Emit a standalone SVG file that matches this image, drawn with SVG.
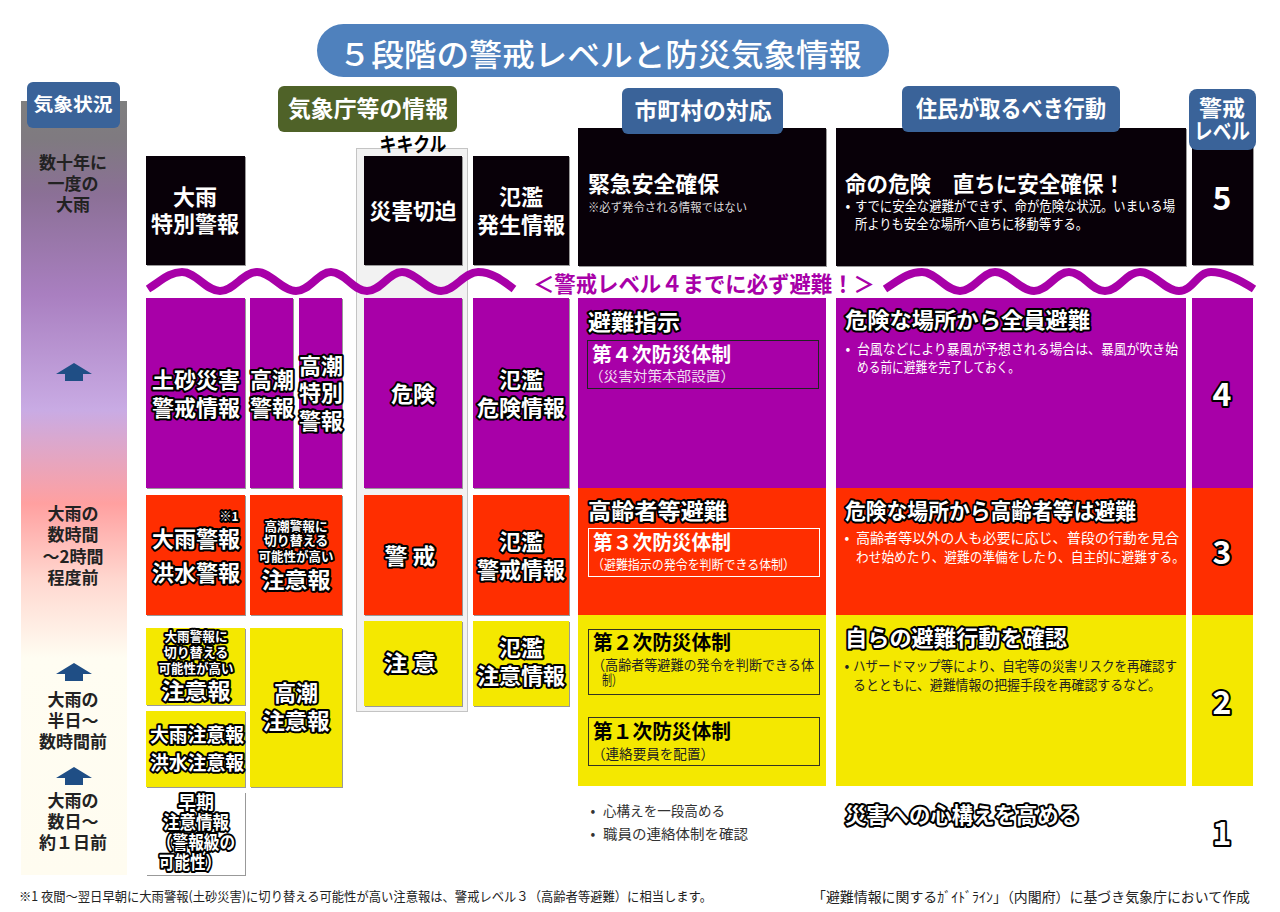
<svg xmlns="http://www.w3.org/2000/svg" width="1280" height="912" viewBox="0 0 1280 912">
<style>
text{font-family:"Noto Sans CJK JP","Noto Sans",sans-serif;text-anchor:middle;dominant-baseline:central;transform:translateY(-2px)}
.l{text-anchor:start}
.b{font-weight:700}
.w{fill:#fff}
.k{fill:#000}
.d{fill:#222;font-weight:700}
.h{fill:#fff;font-weight:700;stroke:#000;stroke-width:4;stroke-linejoin:round;paint-order:stroke}
.bk{fill:#080008}.pu{fill:#a800a8}.re{fill:#ff2e00}.ye{fill:#f4e800}
.sh{filter:drop-shadow(1px 1px .5px #999)}
.tab{fill:#3a6399}
.wave{fill:none;stroke:#a800a8;stroke-width:8}
.arrow{fill:#1f4e85}
</style>
<defs>
<linearGradient id="sky" x1="0" y1="0" x2="0" y2="1">
<stop offset="0" stop-color="#7f7f7f"/>
<stop offset="0.05" stop-color="#7f7a80"/>
<stop offset="0.12" stop-color="#8b7096"/>
<stop offset="0.25" stop-color="#a97fc0"/>
<stop offset="0.4" stop-color="#c9abe4"/>
<stop offset="0.52" stop-color="#ffa0a0"/>
<stop offset="0.62" stop-color="#ffd8d0"/>
<stop offset="0.72" stop-color="#fffdf2"/>
<stop offset="1" stop-color="#fffcf0"/>
</linearGradient>
</defs>
<g id="connectors"></g>
<g id="title"><rect x="317" y="24" width="572" height="53" rx="26.500" fill="#4f81bd"/><text class="w" x="600" y="54" font-size="31" font-weight="500" textLength="523" lengthAdjust="spacingAndGlyphs">５段階の警戒レベルと防災気象情報</text></g>

<g id="weather-column">
<rect x="21" y="101" width="106" height="774" fill="url(#sky)"/>
<rect class="tab" x="27" y="82" width="93" height="46" rx="6"/>
<text class="w b" x="73" y="105" font-size="18" textLength="79" lengthAdjust="spacingAndGlyphs">気象状況</text>
<g class="d" font-size="17"><text x="73" y="163">数十年に</text><text x="73" y="184">一度の</text><text x="73" y="205">大雨</text>
<text x="73" y="514">大雨の</text><text x="73" y="535">数時間</text><text x="73" y="557">～2時間</text><text x="73" y="578">程度前</text>
<text x="73" y="700">大雨の</text><text x="73" y="721">半日～</text><text x="73" y="742">数時間前</text>
<text x="73" y="801">大雨の</text><text x="73" y="822">数日～</text><text x="73" y="843">約１日前</text></g>
<path class="arrow" d="M74 363L92 374H83V381H65V374H56Z"/>
<path class="arrow" d="M74 663L92 674H83V681H65V674H56Z"/>
<path class="arrow" d="M74 767L92 778H83V785H65V778H56Z"/>
</g>

<g id="kikikuru"><rect x="356.500" y="148.500" width="111" height="563" fill="#f2f2f2" stroke="#c4c4c4"/><text class="k b" x="413" y="145" font-size="20" textLength="67" lengthAdjust="spacingAndGlyphs">キキクル</text></g>

<g id="tab-jma"><rect x="278" y="86" width="179" height="46" rx="6" fill="#4f6228"/><text class="w b" x="368" y="109" font-size="23" textLength="160" lengthAdjust="spacingAndGlyphs">気象庁等の情報</text></g>

<g id="level5">
<rect class="bk sh" x="146" y="156" width="99" height="109"/>
<text class="w b" x="195" y="197" font-size="22">大雨</text><text class="w b" x="195" y="224" font-size="22" textLength="88" lengthAdjust="spacingAndGlyphs">特別警報</text>
<rect class="bk sh" x="364" y="156" width="98" height="109"/>
<text class="w b" x="413" y="211" font-size="22" textLength="87" lengthAdjust="spacingAndGlyphs">災害切迫</text>
<rect class="bk sh" x="473" y="156" width="96" height="109"/>
<text class="w b" x="521" y="197" font-size="22">氾濫</text><text class="w b" x="521" y="225" font-size="22" textLength="88" lengthAdjust="spacingAndGlyphs">発生情報</text>
<rect class="bk sh" x="578" y="128" width="248" height="138"/>
<text class="w b l" x="588" y="184" font-size="22" textLength="131" lengthAdjust="spacingAndGlyphs">緊急安全確保</text>
<text class="w l" x="588" y="208" font-size="12" fill-opacity=".85" textLength="159" lengthAdjust="spacingAndGlyphs">※必ず発令される情報ではない</text>
<rect class="bk sh" x="836" y="128" width="350" height="138"/>
<text class="w b l" x="845" y="184" font-size="22" textLength="280" lengthAdjust="spacingAndGlyphs">命の危険　直ちに安全確保！</text>
<text class="w" x="848" y="207" font-size="14">•</text>
<text class="w l" x="855" y="207" font-size="14" textLength="320" lengthAdjust="spacingAndGlyphs">すでに安全な避難ができず、命が危険な状況。いまいる場</text>
<text class="w l" x="855" y="225" font-size="14" textLength="233" lengthAdjust="spacingAndGlyphs">所よりも安全な場所へ直ちに移動等する。</text>
<rect class="bk sh" x="1192" y="128" width="61" height="137"/>
<text class="w b" x="1222" y="198" font-size="32">5</text>
</g>

<g id="tab-city"><rect class="tab" x="622" y="88" width="161" height="46" rx="6"/><text class="w b" x="703" y="111" font-size="23" textLength="137" lengthAdjust="spacingAndGlyphs">市町村の対応</text></g>
<g id="tab-residents"><rect class="tab" x="902" y="86" width="218" height="46" rx="6"/><text class="w b" x="1011" y="109" font-size="23" textLength="190" lengthAdjust="spacingAndGlyphs">住民が取るべき行動</text></g>
<g id="tab-level"><rect class="tab" x="1189" y="89" width="67" height="61" rx="8"/><text class="w b" x="1222" y="108" font-size="22" textLength="46" lengthAdjust="spacingAndGlyphs">警戒</text><text class="w b" x="1222" y="131" font-size="22" textLength="56" lengthAdjust="spacingAndGlyphs">レベル</text></g>

<g id="wave-band">
<path class="wave" d="M148 289C162 280 170 272 182 272C196 272 206 291 220 291C234 291 243 272 257 272C271 272 282 291 296 291C310 291 318 272 331 272C345 272 353 291 367 291C381 291 389 272 402 272C416 272 427 291 441 291C455 291 464 272 478 272C492 272 502 280 514 289"/>
<path class="wave" d="M885 289C899 280 908 272 922 272C936 272 946 291 960 291C974 291 982 272 995 272C1009 272 1020 291 1034 291C1048 291 1056 272 1069 272C1083 272 1091 291 1105 291C1119 291 1126 272 1140 272C1154 272 1165 291 1179 291C1193 291 1197 272 1211 272C1225 272 1240 280 1254 289"/>
<text class="b" x="704" y="284" font-size="22" fill="#a800a8" textLength="342" lengthAdjust="spacingAndGlyphs">＜警戒レベル４までに必ず避難！＞</text>
</g>

<g id="level4">
<rect class="pu sh" x="146" y="298" width="99" height="190"/>
<text class="h" x="196" y="380" font-size="22" textLength="88" lengthAdjust="spacingAndGlyphs">土砂災害</text><text class="h" x="196" y="408" font-size="22" textLength="88" lengthAdjust="spacingAndGlyphs">警戒情報</text>
<rect class="pu sh" x="250" y="298" width="43" height="190"/>
<text class="h" x="272" y="380" font-size="22">高潮</text><text class="h" x="272" y="408" font-size="22">警報</text>
<rect class="pu sh" x="299" y="298" width="43" height="190"/>
<text class="h" x="321" y="366" font-size="22">高潮</text><text class="h" x="321" y="393" font-size="22">特別</text><text class="h" x="321" y="421" font-size="22">警報</text>
<rect class="pu sh" x="364" y="298" width="98" height="190"/>
<text class="h" x="413" y="394" font-size="22">危険</text>
<rect class="pu sh" x="473" y="298" width="96" height="190"/>
<text class="h" x="521" y="380" font-size="22">氾濫</text><text class="h" x="521" y="408" font-size="22" textLength="88" lengthAdjust="spacingAndGlyphs">危険情報</text>
<rect class="pu" x="578" y="298" width="248" height="190"/>
<text class="h l" x="588" y="322" font-size="22" textLength="92" lengthAdjust="spacingAndGlyphs">避難指示</text>
<rect x="587.500" y="340.500" width="231" height="48" fill="none" stroke="#222"/>
<text class="w b l" x="592" y="355" font-size="20" textLength="139" lengthAdjust="spacingAndGlyphs">第４次防災体制</text>
<text class="l" x="589" y="377" font-size="14" fill="#f0dcf0" textLength="146" lengthAdjust="spacingAndGlyphs">（災害対策本部設置）</text>
<rect class="pu" x="836" y="298" width="350" height="190"/>
<text class="h l" x="845" y="320" font-size="22" textLength="245" lengthAdjust="spacingAndGlyphs">危険な場所から全員避難</text>
<text class="w" x="848" y="350" font-size="14">•</text>
<text class="w l" x="857" y="350" font-size="14" textLength="321" lengthAdjust="spacingAndGlyphs">台風などにより暴風が予想される場合は、暴風が吹き始</text>
<text class="w l" x="857" y="368" font-size="14" textLength="163" lengthAdjust="spacingAndGlyphs">める前に避難を完了しておく。</text>
<rect class="pu" x="1192" y="298" width="61" height="190"/>
<text class="h" x="1222" y="394" font-size="32">4</text>
</g>

<g id="level3">
<rect class="re sh" x="146" y="495" width="99" height="120"/>
<text class="h" x="229" y="517" font-size="12" stroke-width="3">※1</text>
<text class="h" x="196" y="539" font-size="22" textLength="88" lengthAdjust="spacingAndGlyphs">大雨警報</text><text class="h" x="196" y="573" font-size="22" textLength="88" lengthAdjust="spacingAndGlyphs">洪水警報</text>
<rect class="re sh" x="250" y="495" width="92" height="120"/>
<text class="h" x="296" y="527" font-size="13" textLength="63" lengthAdjust="spacingAndGlyphs">高潮警報に</text><text class="h" x="296" y="541" font-size="13">切り替える</text><text class="h" x="296" y="557" font-size="13" textLength="75" lengthAdjust="spacingAndGlyphs">可能性が高い</text><text class="h" x="296" y="580" font-size="22" textLength="69" lengthAdjust="spacingAndGlyphs">注意報</text>
<rect class="re sh" x="364" y="495" width="98" height="120"/>
<text class="h" x="410" y="556" font-size="22" textLength="51" lengthAdjust="spacingAndGlyphs">警 戒</text>
<rect class="re sh" x="473" y="495" width="96" height="120"/>
<text class="h" x="521" y="542" font-size="22">氾濫</text><text class="h" x="521" y="570" font-size="22" textLength="88" lengthAdjust="spacingAndGlyphs">警戒情報</text>
<rect class="re" x="578" y="488" width="248" height="127"/>
<text class="h l" x="588" y="511" font-size="22" textLength="139" lengthAdjust="spacingAndGlyphs">高齢者等避難</text>
<rect x="588.500" y="528.500" width="231" height="48" fill="none" stroke="#fff"/>
<text class="w b l" x="593" y="543" font-size="20" textLength="138" lengthAdjust="spacingAndGlyphs">第３次防災体制</text>
<text class="w l" x="592" y="565" font-size="13" textLength="203" lengthAdjust="spacingAndGlyphs">（避難指示の発令を判断できる体制）</text>
<rect class="re" x="836" y="488" width="350" height="127"/>
<text class="h l" x="845" y="511" font-size="22" textLength="291" lengthAdjust="spacingAndGlyphs">危険な場所から高齢者等は避難</text>
<text class="w" x="847" y="539" font-size="14">•</text>
<text class="w l" x="856" y="539" font-size="14" textLength="323" lengthAdjust="spacingAndGlyphs">高齢者等以外の人も必要に応じ、普段の行動を見合</text>
<text class="w l" x="856" y="558" font-size="14" textLength="329" lengthAdjust="spacingAndGlyphs">わせ始めたり、避難の準備をしたり、自主的に避難する。</text>
<rect class="re" x="1192" y="488" width="61" height="127"/>
<text class="h" x="1222" y="552" font-size="32">3</text>
</g>

<g id="level2">
<rect class="ye sh" x="146" y="628" width="99" height="77"/>
<text class="h" x="196" y="637" font-size="13" textLength="63" lengthAdjust="spacingAndGlyphs">大雨警報に</text><text class="h" x="196" y="653" font-size="13">切り替える</text><text class="h" x="196" y="669" font-size="13" textLength="75" lengthAdjust="spacingAndGlyphs">可能性が高い</text><text class="h" x="196" y="691" font-size="22" textLength="69" lengthAdjust="spacingAndGlyphs">注意報</text>
<rect class="ye sh" x="146" y="711" width="99" height="76"/>
<text class="h" x="197" y="735" font-size="19" textLength="94" lengthAdjust="spacingAndGlyphs">大雨注意報</text><text class="h" x="197" y="763" font-size="19" textLength="94" lengthAdjust="spacingAndGlyphs">洪水注意報</text>
<rect class="ye sh" x="250" y="628" width="92" height="159"/>
<text class="h" x="296" y="693" font-size="22">高潮</text><text class="h" x="296" y="721" font-size="22" textLength="67" lengthAdjust="spacingAndGlyphs">注意報</text>
<rect class="ye sh" x="364" y="621" width="98" height="85"/>
<text class="h" x="410" y="663" font-size="22" textLength="52" lengthAdjust="spacingAndGlyphs">注 意</text>
<rect class="ye sh" x="473" y="621" width="96" height="85"/>
<text class="h" x="521" y="648" font-size="22">氾濫</text><text class="h" x="521" y="676" font-size="22" textLength="88" lengthAdjust="spacingAndGlyphs">注意情報</text>
<rect class="ye" x="578" y="615" width="248" height="171"/>
<rect x="588.500" y="629.500" width="231" height="65" fill="none" stroke="#332"/>
<text class="k b l" x="593" y="643" font-size="20" textLength="138" lengthAdjust="spacingAndGlyphs">第２次防災体制</text>
<text class="l" x="592" y="666" font-size="14" fill="#222" textLength="222" lengthAdjust="spacingAndGlyphs">（高齢者等避難の発令を判断できる体</text>
<text class="l" x="602" y="681" font-size="14" fill="#222" textLength="20" lengthAdjust="spacingAndGlyphs">制）</text>
<rect x="588.500" y="717.500" width="231" height="48" fill="none" stroke="#332"/>
<text class="k b l" x="593" y="732" font-size="20" textLength="138" lengthAdjust="spacingAndGlyphs">第１次防災体制</text>
<text class="l" x="592" y="755" font-size="14" fill="#222" textLength="122" lengthAdjust="spacingAndGlyphs">（連絡要員を配置）</text>
<rect class="ye" x="836" y="615" width="350" height="171"/>
<text class="h l" x="845" y="638" font-size="22" textLength="222" lengthAdjust="spacingAndGlyphs">自らの避難行動を確認</text>
<text x="847" y="667" font-size="14" fill="#222">•</text>
<text class="l" x="853" y="667" font-size="14" fill="#222" textLength="324" lengthAdjust="spacingAndGlyphs">ハザードマップ等により、自宅等の災害リスクを再確認す</text>
<text class="l" x="853" y="686" font-size="14" fill="#222" textLength="308" lengthAdjust="spacingAndGlyphs">るとともに、避難情報の把握手段を再確認するなど。</text>
<rect class="ye" x="1192" y="615" width="61" height="171"/>
<text class="h" x="1222" y="702" font-size="32">2</text>
</g>

<g id="level1">
<rect class="sh" x="146" y="792" width="99" height="83" fill="#fff"/>
<text class="h" x="196" y="803" font-size="18">早期</text><text class="h" x="196" y="823" font-size="18" textLength="66" lengthAdjust="spacingAndGlyphs">注意情報</text><text class="h" x="196" y="843" font-size="18" textLength="78" lengthAdjust="spacingAndGlyphs">（警報級の</text><text class="h" x="190" y="863" font-size="18" textLength="62" lengthAdjust="spacingAndGlyphs">可能性）</text>
<text x="593" y="812" font-size="14" fill="#333">•</text>
<text class="l" x="603" y="812" font-size="14" fill="#333" textLength="122" lengthAdjust="spacingAndGlyphs">心構えを一段高める</text>
<text x="593" y="835" font-size="14" fill="#333">•</text>
<text class="l" x="603" y="835" font-size="14" fill="#333" textLength="145" lengthAdjust="spacingAndGlyphs">職員の連絡体制を確認</text>
<text class="h l" x="845" y="815" font-size="22" textLength="235" lengthAdjust="spacingAndGlyphs">災害への心構えを高める</text>
<text class="h" x="1222" y="833" font-size="32">1</text>
</g>

<g id="footer">
<text class="l" x="19" y="897" font-size="13" fill="#222" textLength="693" lengthAdjust="spacingAndGlyphs">※1 夜間～翌日早朝に大雨警報(土砂災害)に切り替える可能性が高い注意報は、警戒レベル３（高齢者等避難）に相当します。</text>
<text class="l" x="812" y="898" font-size="14" fill="#222" textLength="438" lengthAdjust="spacingAndGlyphs">「避難情報に関するｶﾞｲﾄﾞﾗｲﾝ」（内閣府）に基づき気象庁において作成</text>
</g>
</svg>
